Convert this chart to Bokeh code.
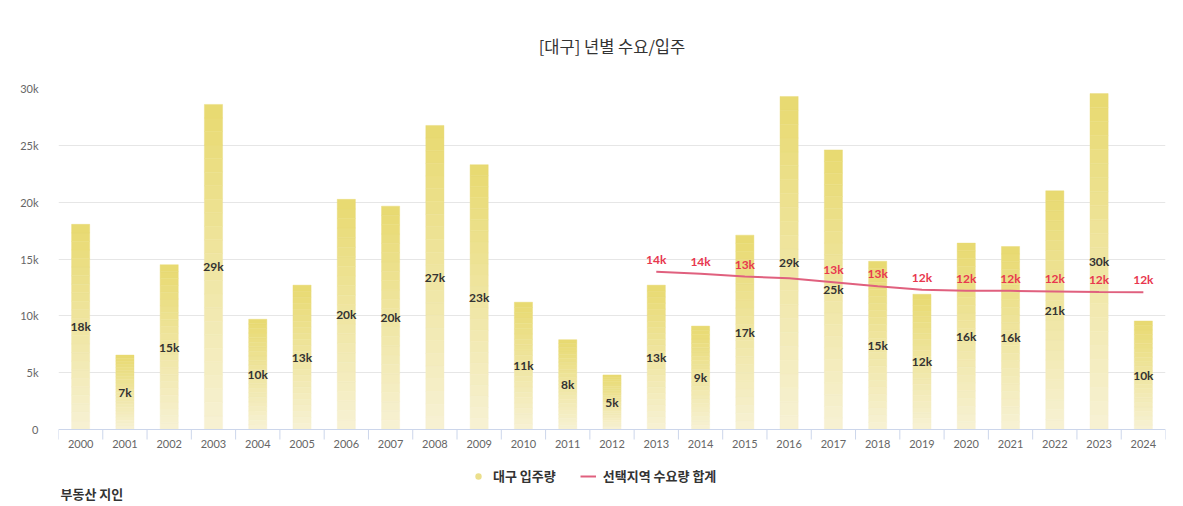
from bokeh.plotting import figure
from bokeh.models import Range1d, FixedTicker, Legend, LegendItem, Span
from bokeh.core.properties import value
from bokeh.embed import file_html
from bokeh.resources import INLINE

years = [str(y) for y in range(2000, 2025)]
supply = [18050, 6550, 14500, 28600, 9700, 12700, 20250, 19650, 26750, 23300, 11200, 7900, 4800,
          12700, 9100, 17100, 29300, 24600, 14800, 11900, 16400, 16100, 21000, 29550, 9550]
demand_years = [str(y) for y in range(2013, 2025)]
demand = [13870, 13700, 13450, 13300, 12950, 12600, 12300, 12200, 12200, 12150, 12100, 12070]
hidden_demand_labels = ["2016"]

y_ticks = [0, 5000, 10000, 15000, 20000, 25000, 30000]
y_tick_labels = ["0", "5k", "10k", "15k", "20k", "25k", "30k"]
y_max = 30000

KR = "Noto Sans CJK KR"

# layout (pixels)
PLOT_H = 341          # height of the 0..30k value area
EXTRA_H = 75          # space below zero for category labels and legend
ppu = PLOT_H / y_max  # pixels per unit
y_min = -EXTRA_H / ppu

p = figure(frame_width=1107, frame_height=PLOT_H + EXTRA_H, output_backend="svg",
           toolbar_location=None,
           x_range=Range1d(-0.5, len(years) - 0.5), y_range=Range1d(y_min, y_max),
           min_border_left=58, min_border_right=10, min_border_top=87, min_border_bottom=0)
p.background_fill_color = "white"
p.border_fill_color = "white"
p.outline_line_color = None

p.title.text = "[대구] 년별 수요/입주"
p.title.align = "center"
p.title.offset = -19
p.title.text_font = KR
p.title.text_font_size = "16.5px"
p.title.text_font_style = "normal"
p.title.text_color = "#333333"
p.title.standoff = 62

# gradient bars (stacked slices per bar)
N = 24
top_c = (232, 217, 112)
bot_c = (247, 242, 212)
xs, bots, tops, cols = [], [], [], []
for i, v in enumerate(supply):
    for k in range(N):
        t = (k + 0.5) / N
        c = tuple(int(round(bot_c[j] + (top_c[j] - bot_c[j]) * t)) for j in range(3))
        xs.append(i)
        bots.append(v * k / N)
        tops.append(v * (k + 1) / N)
        cols.append("#%02x%02x%02x" % c)
p.vbar(x=xs, bottom=bots, top=tops, width=0.41, fill_color=cols, line_color=cols, line_width=0.4)

# bar labels
bx = list(range(len(years)))
p.text(x=bx, y=[v / 2 for v in supply], text=[f"{int(v / 1000 + 0.5)}k" for v in supply],
       text_align="center", text_baseline="middle", text_font=value("Lato"),
       text_font_size="12px", text_font_style="bold", text_color="#333333")

# demand line
dx = [years.index(y) for y in demand_years]
line = p.line(x=dx, y=demand, line_color="#e0607e", line_width=2)
lx = [x for x, y in zip(dx, demand_years) if y not in hidden_demand_labels]
ly = [d for d, y in zip(demand, demand_years) if y not in hidden_demand_labels]
p.text(x=lx, y=ly, text=[f"{int(v / 1000 + 0.5)}k" for v in ly], text_align="center",
       text_baseline="bottom", y_offset=-5, text_font=value("Lato"), text_font_size="12px",
       text_font_style="bold", text_color="#e8384f")

# legend swatch renderer (placed outside the visible range, only used by the legend)
dummy = p.scatter(x=[0], y=[y_max * 10], marker="circle", size=15, fill_color="#ebdf8c",
                  line_color=None)

# category axis drawn at zero
p.xaxis.visible = False
p.add_layout(Span(location=0, dimension="width", line_color="#ccd6eb", line_width=1))
bounds = [i - 0.5 for i in range(len(years) + 1)]
p.segment(x0=bounds, y0=[0] * len(bounds), x1=bounds, y1=[-10 / ppu] * len(bounds),
          line_color="#ccd6eb", line_width=1)
p.text(x=bx, y=[0] * len(bx), text=years, y_offset=14, text_align="center",
       text_baseline="middle", text_font=value("Lato"), text_font_size="11px",
       text_color="#666666")

# value axis
p.yaxis.ticker = FixedTicker(ticks=y_ticks)
p.yaxis.major_label_overrides = dict(zip(y_ticks, y_tick_labels))
p.yaxis.axis_line_color = None
p.yaxis.major_tick_line_color = None
p.yaxis.minor_tick_line_color = None
p.yaxis.major_label_text_color = "#666666"
p.yaxis.major_label_text_font = "Lato"
p.yaxis.major_label_text_font_size = "11px"
p.yaxis.major_label_standoff = 14

p.xgrid.grid_line_color = None
p.ygrid.ticker = FixedTicker(ticks=y_ticks[1:])
p.ygrid.grid_line_color = "#e6e6e6"

legend = Legend(items=[LegendItem(label="대구 입주량", renderers=[dummy]),
                       LegendItem(label="선택지역 수요량 합계", renderers=[line])],
                orientation="horizontal", location=(412, 19), border_line_color=None,
                background_fill_alpha=0, label_text_font=KR, label_text_font_size="13px",
                label_text_font_style="bold", label_text_color="#333333", spacing=24,
                glyph_width=16, glyph_height=16, margin=0, padding=4, label_standoff=7)
p.add_layout(legend)

# site logo text at the bottom-left corner
p.text(x=[-0.5], y=[y_min], text=["부동산 지인"], x_offset=2, y_offset=-2,
       text_baseline="bottom", text_font=value(KR), text_font_size="13px",
       text_font_style="bold", text_color="#333333")

open("out.html", "w").write(file_html(p, INLINE))
